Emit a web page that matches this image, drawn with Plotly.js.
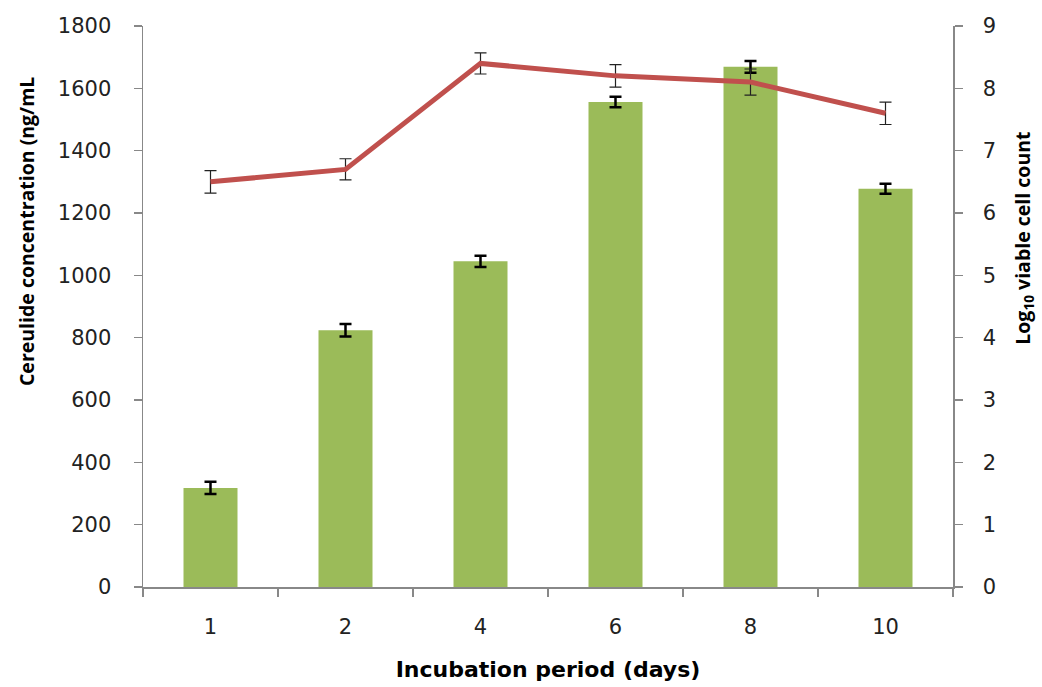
<!DOCTYPE html>
<html>
<head>
<meta charset="utf-8">
<script src="https://cdn.plot.ly/plotly-3.0.1.min.js"></script>
<style>
html,body{margin:0;padding:0;background:#fff;}
#chart{width:1042px;height:687px;}
</style>
</head>
<body>
<div id="chart"></div>
<script>
const days = ["1", "2", "4", "6", "8", "10"];
const cereulide = [318, 824, 1045, 1556, 1669, 1278];
const cereulideErr = [20, 20, 18, 17, 19, 16];
const logCount = [6.5, 6.7, 8.4, 8.2, 8.1, 7.6];
const logCountErr = [0.18, 0.17, 0.17, 0.18, 0.21, 0.18];

const bars = {
  type: "bar",
  x: days,
  y: cereulide,
  marker: {color: "#9BBB59"},
  error_y: {type: "data", array: cereulideErr, visible: true, color: "#000", thickness: 2.5, width: 6},
  hoverinfo: "none",
  showlegend: false
};
const line = {
  type: "scatter",
  mode: "lines",
  x: days,
  y: logCount,
  yaxis: "y2",
  line: {color: "#C0504D", width: 5},
  error_y: {type: "data", array: logCountErr, visible: true, color: "#222", thickness: 1.2, width: 6},
  hoverinfo: "none",
  showlegend: false
};

const tickFont = {family: "DejaVu Sans", size: 21, color: "#222"};
const layout = {
  width: 1042, height: 687,
  margin: {l: 143, r: 89, t: 26, b: 100},
  paper_bgcolor: "#fff", plot_bgcolor: "#fff",
  bargap: 0.6,
  xaxis: {
    type: "category",
    tickson: "boundaries",
    ticks: "outside", ticklen: 8, tickcolor: "#888", tickwidth: 1.5,
    showline: true, linecolor: "#888", linewidth: 1.5,
    showgrid: false, zeroline: false,
    tickfont: tickFont,
    ticklabelstandoff: 20,
    title: {text: "Incubation period (days)", font: {family: "DejaVu Sans", size: 22, color: "#000", weight: "bold"}, standoff: 24}
  },
  yaxis: {
    range: [0, 1800], dtick: 200,
    ticks: "outside", ticklen: 8, tickcolor: "#888", tickwidth: 1.5,
    showline: true, linecolor: "#888", linewidth: 1.5,
    showgrid: false, zeroline: false,
    tickfont: tickFont,
    ticklabelstandoff: 18
  },
  yaxis2: {
    overlaying: "y", side: "right",
    range: [0, 9], dtick: 1,
    ticks: "outside", ticklen: 8, tickcolor: "#888", tickwidth: 1.5,
    showline: true, linecolor: "#888", linewidth: 1.5,
    showgrid: false, zeroline: false,
    tickfont: tickFont,
    ticklabelstandoff: 16
  },
  annotations: [
    {xref: "paper", yref: "paper", x: -0.143, y: 0.633, xanchor: "center", yanchor: "middle",
     textangle: -90, showarrow: false,
     text: "<b>Cereulide concentration (ng/mL</b>",
     font: {family: "Open Sans", size: 19.5, color: "#000"}},
    {xref: "paper", yref: "paper", x: 1.086, y: 0.622, xanchor: "center", yanchor: "middle",
     textangle: -90, showarrow: false,
     text: "<b>Log<sub>10</sub> viable cell count</b>",
     font: {family: "Open Sans", size: 19.5, color: "#000"}}
  ]
};

Plotly.newPlot("chart", [bars, line], layout, {displayModeBar: false, staticPlot: true});
</script>
</body>
</html>
